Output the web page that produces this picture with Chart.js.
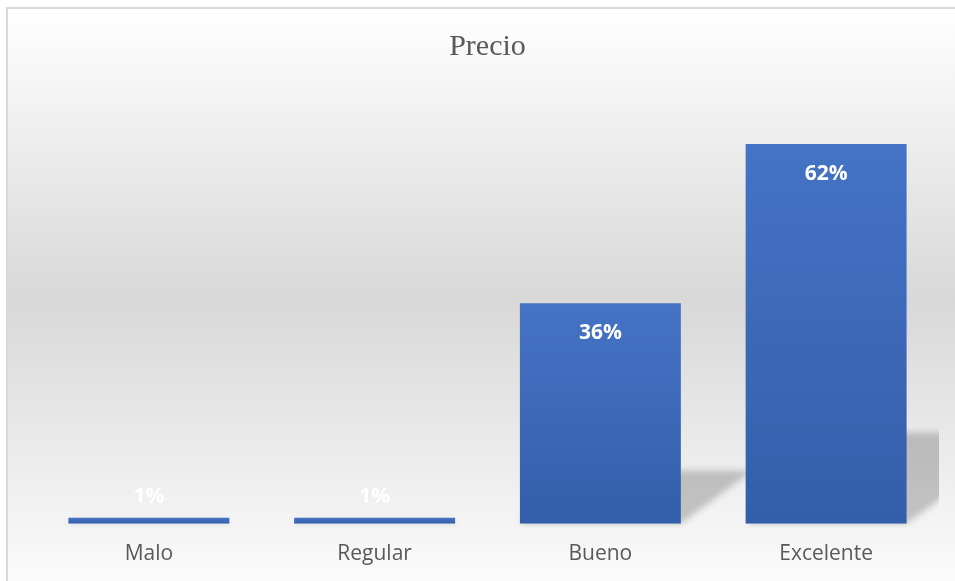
<!DOCTYPE html>
<html>
<head>
<meta charset="utf-8">
<title>Precio</title>
<script src="https://cdn.jsdelivr.net/npm/chart.js@4"></script>
<style>
  html, body { margin: 0; padding: 0; background: #fff; }
  #wrap { width: 955px; height: 581px; }
</style>
</head>
<body>
<div id="wrap"><canvas id="myChart" width="955" height="581"></canvas></div>
<script>
var categorias = ["Malo", "Regular", "Bueno", "Excelente"];
var valores = [1, 1, 36, 62];
var ejeMax = 70;

// fondo con degradado y borde del grafico
var fondo = {
  id: "fondo",
  beforeDraw: function (chart) {
    var ctx = chart.ctx;
    ctx.save();
    ctx.fillStyle = "#ffffff";
    ctx.fillRect(0, 0, chart.width, chart.height);
    var g = ctx.createLinearGradient(0, 8, 0, 590);
    g.addColorStop(0, "#ffffff");
    g.addColorStop(0.5, "#d8d8d8");
    g.addColorStop(1, "#fcfcfc");
    ctx.fillStyle = g;
    ctx.fillRect(7, 8, chart.width - 7, chart.height - 8);
    ctx.strokeStyle = "#d9d9d9";
    ctx.lineWidth = 2;
    ctx.beginPath();
    ctx.moveTo(7, chart.height);
    ctx.lineTo(7, 8);
    ctx.lineTo(chart.width, 8);
    ctx.stroke();
    ctx.restore();
  }
};

// sombra en perspectiva detras de cada barra
var sombra = {
  id: "sombra",
  beforeDatasetsDraw: function (chart) {
    var ctx = chart.ctx;
    var a = chart.chartArea;
    ctx.save();
    ctx.beginPath();
    ctx.rect(a.left, a.top, a.right - a.left, a.bottom - a.top + 4);
    ctx.clip();
    ctx.filter = "blur(3px)";
    ctx.fillStyle = "rgba(0,0,0,0.2)";
    chart.getDatasetMeta(0).data.forEach(function (bar) {
      var h = (bar.base - bar.y) * 0.24;
      var s = h * 1.35;
      var l = bar.x - bar.width / 2;
      var r = bar.x + bar.width / 2;
      ctx.beginPath();
      ctx.moveTo(l, bar.base);
      ctx.lineTo(r, bar.base);
      ctx.lineTo(r + s, bar.base - h);
      ctx.lineTo(l + s, bar.base - h);
      ctx.closePath();
      ctx.fill();
    });
    ctx.restore();
  }
};

// etiquetas de porcentaje
var etiquetas = {
  id: "etiquetas",
  afterDatasetsDraw: function (chart) {
    var ctx = chart.ctx;
    ctx.save();
    ctx.font = "bold 21px 'Open Sans'";
    ctx.fillStyle = "#ffffff";
    ctx.textAlign = "center";
    ctx.textBaseline = "middle";
    chart.getDatasetMeta(0).data.forEach(function (bar, i) {
      var alto = bar.base - bar.y;
      var y = alto > 50 ? bar.y + 30 : bar.y - 21;
      ctx.fillText(valores[i] + "%", bar.x, y);
    });
    ctx.restore();
  }
};

function degradadoBarra(context) {
  var chart = context.chart;
  var y = chart.scales.y;
  if (!y) return "#4472c4";
  var v = valores[context.dataIndex];
  var top = y.getPixelForValue(v);
  var base = y.getPixelForValue(0);
  if (!isFinite(top) || base - top < 1) return "#3a65b3";
  var g = chart.ctx.createLinearGradient(0, top, 0, base);
  g.addColorStop(0, "#4573c5");
  g.addColorStop(1, "#335ea9");
  return g;
}

new Chart("myChart", {
  type: "bar",
  data: {
    labels: categorias,
    datasets: [{
      data: valores,
      backgroundColor: degradadoBarra,
      borderWidth: 0,
      barPercentage: 0.713,
      categoryPercentage: 1
    }]
  },
  options: {
    responsive: false,
    animation: false,
    layout: { padding: { left: 36, right: 16, top: 0, bottom: -4 } },
    plugins: {
      legend: { display: false },
      tooltip: { enabled: false },
      title: {
        display: true,
        text: "Precio",
        color: "#595959",
        font: { family: "'Liberation Serif'", size: 30, weight: "normal" },
        padding: { top: 29, bottom: 30 }
      }
    },
    scales: {
      x: {
        grid: { display: false, drawTicks: false },
        border: { display: false },
        ticks: {
          color: "#595959",
          font: { family: "'Open Sans'", size: 21 },
          padding: 18
        }
      },
      y: {
        display: false,
        min: 0,
        max: ejeMax
      }
    }
  },
  plugins: [fondo, sombra, etiquetas]
});
</script>
</body>
</html>
